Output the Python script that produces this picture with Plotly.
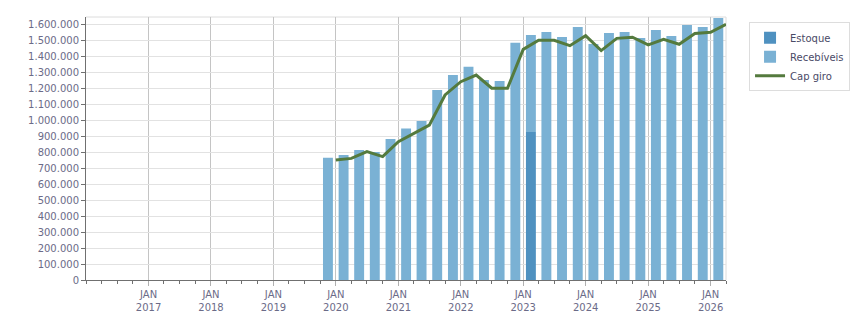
import pandas as pd
import plotly.graph_objects as go

quarters = ["2019Q4",
            "2020Q1", "2020Q2", "2020Q3", "2020Q4",
            "2021Q1", "2021Q2", "2021Q3", "2021Q4",
            "2022Q1", "2022Q2", "2022Q3", "2022Q4",
            "2023Q1", "2023Q2", "2023Q3", "2023Q4",
            "2024Q1", "2024Q2", "2024Q3", "2024Q4",
            "2025Q1", "2025Q2", "2025Q3", "2025Q4",
            "2026Q1"]

estoque = [None, None, None, None, None, None, None, None, None, None, None, None, None,
           928000, None, None, None, None, None, None, None, None, None, None, None, None]

recebiveis = [767000,
              784000, 816000, 803000, 885000,
              950000, 998000, 1192000, 1286000,
              1338000, 1255000, 1249000, 1489000,
              609000, 1556000, 1525000, 1587000,
              1481000, 1550000, 1556000, 1518000,
              1568000, 1531000, 1600000, 1587000,
              1644000]

cap_giro = [753000,
            763000, 805000, 774000, 868000,
            920000, 972000, 1161000, 1244000,
            1286000, 1203000, 1203000, 1447000,
            1504000, 1504000, 1470000, 1533000,
            1439000, 1516000, 1523000, 1475000,
            1510000, 1479000, 1546000, 1554000,
            1604000]

years = list(range(2017, 2027))
tick_vals = [f"{y}-01-01" for y in years]
tick_text = [f"JAN<br>{y}" for y in years]

periods = [pd.Period(q, freq="Q") for q in quarters]
bar_x = [p.start_time + (p.end_time - p.start_time) / 2 for p in periods]
line_x = [(p + 1).start_time for p in periods]

DAY_MS = 86400000
bar_width = 58 * DAY_MS

FONT = "DejaVu Sans"
TXT = "#6b6b88"

fig = go.Figure()
fig.add_trace(go.Bar(x=bar_x, y=estoque, name="Estoque", marker_color="#4f91c0",
                     marker_line_width=0, width=bar_width))
fig.add_trace(go.Bar(x=bar_x, y=recebiveis, name="Recebíveis", marker_color="#7ab1d4",
                     marker_line_width=0, width=bar_width))
fig.add_trace(go.Scatter(x=line_x, y=cap_giro, name="Cap giro", mode="lines",
                         line=dict(color="#547a3e", width=3)))

fig.update_layout(
    width=851, height=313,
    margin=dict(l=86, r=125, t=17, b=33, autoexpand=False),
    paper_bgcolor="white", plot_bgcolor="white",
    barmode="relative",
    separators=",.",
    font=dict(family=FONT, size=10, color=TXT),
    legend=dict(x=1.036, y=0.98, xanchor="left", yanchor="top",
                bordercolor="#dddddd", borderwidth=1,
                font=dict(family=FONT, size=10, color="#4a4a66"),
                itemwidth=30, tracegroupgap=0),
    showlegend=True,
)

fig.update_xaxes(
    type="date", range=["2016-01-01", "2026-04-01"],
    tickvals=tick_vals, ticktext=tick_text,
    showgrid=True, gridcolor="#c4c4c4", gridwidth=1,
    showline=True, linecolor="#707070", linewidth=1,
    ticks="outside", ticklen=5, tickcolor="#b0b0b0",
    tickfont=dict(family=FONT, size=10, color=TXT),
    minor=dict(dtick="M3", tick0="2016-01-01", ticks="outside", ticklen=3,
               tickcolor="#707070", showgrid=False),
    zeroline=False, automargin=False,
)
fig.update_yaxes(
    range=[0, 1650000], dtick=100000, tickformat=",d",
    showgrid=True, gridcolor="#e2e2e2", gridwidth=1,
    showline=True, linecolor="#707070", linewidth=1,
    ticks="outside", ticklen=4, tickcolor="#707070",
    tickfont=dict(family=FONT, size=10, color=TXT),
    zeroline=False, automargin=False,
)

# light frame on top and right of plot area
fig.add_shape(type="line", xref="paper", yref="paper", x0=0, x1=1, y0=1, y1=1,
              line=dict(color="#dcdcdc", width=1), layer="below")
fig.add_shape(type="line", xref="paper", yref="paper", x0=1, x1=1, y0=0, y1=1,
              line=dict(color="#dcdcdc", width=1), layer="below")

fig.write_html("out.html")
